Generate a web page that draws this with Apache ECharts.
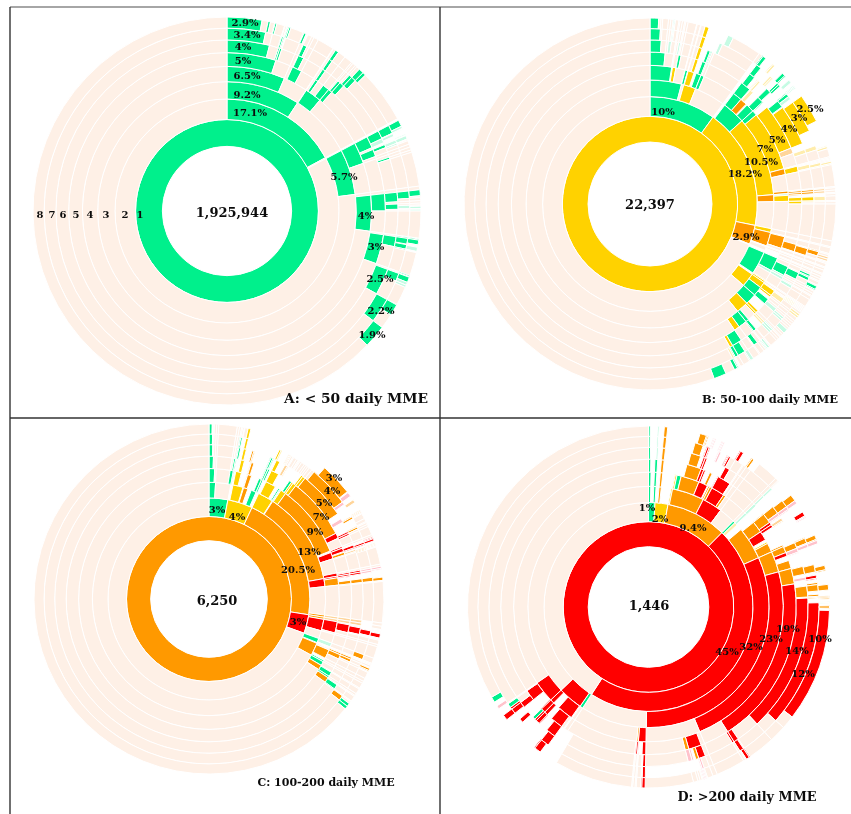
<!DOCTYPE html>
<html><head><meta charset="utf-8">
<style>html,body{margin:0;padding:0;background:#fff}#c{width:851px;height:814px;filter:blur(.35px)}</style>
<script src="https://cdn.jsdelivr.net/npm/echarts@6/dist/echarts.min.js"></script>
</head><body><div id="c"></div>
<script>
// sectors, ring by ring clockwise from 12 o'clock: type, share of all patients (%)
// G green <50, Y yellow 50-100, O orange 100-200, R red >200, P no opioid; lower case = very thin slivers; _ = nothing
const A1=['G',100];
const A2=['G',17.1,'y',.15,'P',82.75];
const A3=['G',9.2,'P',7.9,'_',.15,'G',5.7,'P',77.05];
const A4=['G',6.5,'P',2.7,'_',.05,'G',1.85,'P',6,'_',.15,'G',2.4,'P',3.6,'G',4,'P',72.75];
const A5=['G',5,'P',1.5,'P',.3,'G',1,'P',1.4,'P',.25,'G',.3,'P',.65,'G',1.1,'P',5.6,'_',.15,'G',1.2,'P',.2,'G',.75,'P',3.85,'G',1.75,'P',2.4,'G',3,'P',69.6];
const A6=['G',4,'P',.85,'G',.35,'P',1.65,'G',.55,'P',2.05,'G',.3,'P',1.5,'G',.7,'P',5.15,'_',.15,'G',.8,'g',.4,'_',.2,'G',.3,'P',.95,'G',.2,'P',3.15,'G',.9,'P',.2,'G',.5,'P',2.55,'G',.95,'P',2.2,'G',2.5,'P',66.95];
const A7=['G',3.4,'P',1.4,'G',.3,'P',1.75,'G',.35,'P',2.25,'G',.3,'P',1.92,'G',.7,'P',4.73,'_',.15,'G',.75,'g',.3,'_',.3,'g',.5,'P',4.15,'G',.65,'P',.6,'g',.3,'P',2.5,'G',.6,'_',.05,'G',.5,'P',2.05,'G',.75,'P',1.8,'G',2.2,'P',64.75];
const A8=['G',2.9,'P',.5,'G',.2,'P',.35,'G',.2,'P',.9,'G',.3,'P',1.1,'G',.25,'P',2.75,'G',.3,'P',2.2,'G',.7,'P',4.45,'_',.15,'G',.55,'g',.3,'_',.4,'g',.5,'P',4.25,'G',.5,'P',.85,'g',.4,'P',2.3,'G',.5,'P',.2,'g',.4,'P',2,'G',.6,'g',.45,'P',1.55,'G',1,'P',1.25,'G',1.9,'P',62.85];

const B1=['Y',100];
const B2=['G',10,'Y',18.2,'O',2.9,'r',.1,'P',68.8];
const B3=['G',4.1,'P',.3,'Y',1.6,'P',4,'_',.3,'G',3,'Y',10.5,'O',.9,'P',3.5,'Y',.5,'O',1.8,'r',.1,'P',.5,'_',.3,'G',3,'_',.2,'Y',1.8,'P',63.6];
const B4=['G',2.5,'_',.1,'Y',.4,'P',1.05,'G',.4,'Y',.7,'_',.25,'G',1,'P',3.6,'_',.3,'G',1.1,'O',.8,'_',.15,'G',1.55,'Y',7,'O',.7,'P',1.9,'O',.3,'g',.2,'Y',.7,'P',4.1,'O',1.4,'P',.6,'_',.6,'G',1.6,'g',.3,'P',1,'Y',1,'G',2.4,'Y',1.4,'P',60.6];
const B5=['G',1.6,'P',1.4,'G',.3,'P',1.5,'Y',.35,'_',.45,'G',.5,'P',3.9,'_',.3,'G',1.1,'_',.1,'y',.4,'_',.7,'G',.8,'_',.6,'Y',5,'o',.6,'P',1.4,'Y',.6,'P',2,'O',.5,'_',.2,'Y',.7,'P',4.3,'O',.8,'P',1.7,'G',1,'g',.5,'P',1.4,'Y',.8,'_',.3,'G',.6,'_',1,'Y',.5,'P',.85,'G',1.25,'Y',.6,'P',59.4];
const B6=['G',1.1,'P',.7,'g',.3,'P',.7,'g',.3,'P',1.7,'Y',.35,'_',.55,'G',.5,'P',3.8,'_',.4,'G',.6,'_',.3,'y',.4,'_',.9,'G',.5,'_',1.1,'G',.7,'_',.1,'Y',4,'_',.6,'y',.4,'P',1.1,'y',.4,'P',2.1,'O',.4,'_',.3,'Y',.5,'P',4.6,'O',.7,'P',1.8,'G',.7,'P',.6,'g',.4,'P',1.2,'y',.5,'P',.7,'g',.4,'P',1.3,'y',.4,'_',.7,'G',.4,'P',1.4,'G',1,'Y',.3,'P',58.1];
const B7=['G',.95,'P',1.05,'g',.2,'P',2.6,'Y',.35,'_',1.35,'g',.3,'P',3.2,'_',.4,'G',.5,'_',1.1,'y',.4,'_',.5,'G',.4,'_',.8,'G',.4,'g',.3,'_',.35,'Y',3,'_',1.45,'y',.4,'P',1.2,'y',.4,'P',2,'o',.4,'_',.3,'y',.5,'P',4.5,'O',.5,'P',1.8,'G',.6,'P',2.3,'y',.4,'P',1.3,'g',.4,'P',1,'g',.5,'P',1.4,'G',.4,'P',1,'G',1.1,'y',.2,'P',56.8];
const B8=['G',.75,'P',1.25,'g',.2,'P',2.6,'Y',.35,'_',1.75,'g',.5,'P',2.9,'G',.4,'_',.7,'y',.3,'_',.9,'G',.4,'_',.4,'g',.3,'_',.3,'g',.3,'_',.85,'Y',2.5,'_',2.25,'y',.3,'P',1.1,'y',.3,'P',8,'o',.4,'P',2.3,'G',.4,'P',2.4,'y',.4,'P',1.3,'g',.4,'P',1.7,'g',.4,'P',1.3,'g',.4,'P',1.1,'G',.4,'P',.8,'G',1.1,'P',55.9];

const C1=['O',100];
const C2=['G',3,'Y',4,'O',20.5,'R',3,'P',69.5];
const C3=['G',.9,'P',2.1,'_',.3,'Y',1.4,'_',.1,'O',.6,'_',.5,'G',.7,'_',.4,'Y',2.1,'_',.1,'O',13,'R',1.1,'P',3.9,'O',.6,'R',1.6,'P',1.1,'G',.6,'_',.1,'O',1.8,'P',67];
const C4=['G',.7,'P',1.9,'G',.5,'_',.2,'Y',.7,'_',.7,'O',.6,'_',.95,'G',.55,'_',.4,'Y',1.3,'_',.4,'G',.4,'Y',.7,'O',9,'_',.2,'R',.8,'P',1.8,'R',.6,'O',.9,'P',3.9,'o',.6,'R',1.4,'P',1.3,'g',.5,'P',.4,'O',1.1,'_',.3,'G',.7,'O',.6,'P',65.9];
const C5=['G',.5,'P',2.3,'G',.3,'_',.5,'Y',.4,'_',.7,'O',.4,'_',1.4,'G',.5,'_',.2,'Y',.9,'_',1.4,'G',.3,'Y',.6,'O',7,'R',.6,'P',1,'R',.6,'_',.1,'O',.4,'P',1.9,'R',.5,'_',.4,'O',.5,'P',3.8,'o',.7,'R',.9,'P',2.4,'O',.7,'P',1.7,'G',.7,'O',.6,'P',65.1];
const C6=['G',.4,'P',2.6,'G',.3,'_',.3,'Y',.3,'_',.6,'O',.3,'_',1.7,'G',.4,'_',.3,'Y',.4,'_',.6,'o',.4,'_',1.6,'Y',.5,'O',5,'_',.6,'r',.4,'_',1.1,'R',.4,'P',1.1,'R',.4,'_',.1,'o',.3,'P',1.9,'R',.4,'_',.5,'O',.4,'P',3.9,'o',.8,'R',.7,'P',2.5,'O',.5,'P',2.7,'G',.6,'P',65];
const C7=['G',.35,'P',2.65,'G',.25,'_',.35,'Y',.25,'_',3.15,'Y',.3,'_',.7,'o',.3,'P',2.7,'O',4,'r',.3,'_',1.3,'O',.3,'_',.8,'O',.3,'P',1.4,'R',.3,'_',.2,'O',.3,'P',1.8,'r',.4,'_',.5,'O',.4,'P',3.9,'_',.9,'R',.5,'P',1.9,'O',.5,'P',4,'O',.5,'P',64.5];
const C8=['G',.3,'P',3.3,'Y',.25,'_',7.65,'O',3,'_',.1,'r',.4,'_',.4,'o',.3,'_',.8,'o',.3,'P',2.4,'R',.4,'_',.2,'o',.3,'P',1.9,'r',.3,'_',.7,'O',.3,'P',4.9,'R',.4,'P',2.9,'O',.3,'P',3.4,'G',.6,'P',64.2];

const D1=['R',100];
const D2=['G',1,'Y',2,'O',9.4,'R',46.8,'P',40.8];
const D3=['G',.3,'_',.4,'G',.3,'_',.4,'O',.3,'_',1.3,'Y',.2,'O',4.3,'R',2.7,'P',2.2,'G',.3,'y',.4,'_',.8,'O',4.4,'R',32,'P',8.9,'G',.4,'R',3.3,'P',37.1];
const D4=['G',.3,'_',.4,'G',.3,'_',.4,'O',.3,'_',1.4,'Y',.3,'G',.5,'O',2.2,'R',1.1,'_',.1,'O',.5,'R',1.6,'O',.3,'P',3,'g',.3,'_',1.2,'O',1.4,'R',1.1,'_',.3,'Y',.2,'O',3.6,'R',23,'P',6.5,'R',.9,'O',.2,'P',8.3,'R',1.9,'_',.8,'R',3.1,'P',34.5];
const D5=['G',.25,'_',.45,'G',.3,'_',.4,'O',.3,'_',2.5,'O',1.6,'R',.5,'_',.5,'O',.3,'_',.6,'R',1.6,'P',3.4,'g',.3,'_',1.1,'O',1.2,'R',.6,'_',2.2,'O',.9,'R',.4,'_',.5,'O',2.6,'R',18.5,'P',3.2,'R',1.4,'O',.4,'P',4.3,'R',.4,'_',.4,'R',.4,'P',8.5,'R',1.4,'_',.6,'R',1,'_',1.2,'R',1.2,'P',34.6];
const D6=['G',.2,'_',.6,'g',.2,'_',.4,'O',.3,'_',2.6,'O',1,'_',.3,'R',.4,'_',2,'R',.5,'P',4.2,'g',.2,'_',1.3,'O',.8,'r',.4,'_',.2,'o',.4,'_',2.4,'O',.6,'r',.5,'_',1.4,'O',.8,'_',.3,'r',.3,'_',.6,'O',1.1,'_',.1,'R',14,'P',2.4,'R',.7,'P',3,'R',.7,'O',.3,'_',.2,'r',.6,'P',4.3,'R',.3,'P',7.9,'_',1.5,'R',1,'_',.9,'R',.7,'G',.3,'_',1.3,'R',.6,'P',35];
const D7=['G',.15,'_',.65,'g',.15,'_',.45,'O',.3,'_',2.7,'O',.8,'_',.3,'R',.4,'_',.8,'r',.3,'_',.6,'R',.4,'P',4.7,'g',.2,'_',1.4,'O',.7,'r',.4,'_',2.9,'O',.6,'r',.4,'_',1.7,'O',.7,'_',.3,'R',.4,'_',.3,'O',.8,'_',.3,'O',.4,'_',.4,'R',12,'P',4,'R',.4,'P',3.7,'r',.3,'_',5.3,'R',.3,'P',7.9,'_',1.5,'R',.8,'_',2.4,'R',.4,'_',.7,'R',.7,'G',.4,'P',34.6];
const D8=['G',.15,'_',.65,'g',.15,'_',.45,'O',.3,'_',2.9,'O',.8,'_',.4,'r',.3,'_',.5,'r',.3,'_',1.5,'R',.4,'_',.8,'O',.3,'_',.6,'P',2.3,'_',1.6,'O',.6,'r',.3,'_',.9,'R',.4,'r',.2,'_',1.7,'O',.5,'r',.3,'_',2,'O',.5,'_',1.2,'O',.5,'_',.5,'O',.3,'_',.2,'g',.2,'_',.2,'O',.2,'_',.2,'R',10.1,'P',5.1,'R',.4,'P',3.9,'r',.3,'P',5.2,'R',.4,'P',7.8,'_',1.7,'R',.7,'_',3.4,'R',.5,'_',.7,'r',.3,'_',.4,'G',.5,'P',33.3];

const totals=['1,925,944','22,397','6,250','1,446'];
const titles=['A: < 50 daily MME','B: 50-100 daily MME','C: 100-200 daily MME','D: >200 daily MME'];
const ringLabels=['8','7','6','5','4','3','2','1'];
const percentLabels=[
 ['2.9%','3.4%','4%','5%','6.5%','9.2%','17.1%','5.7%','4%','3%','2.5%','2.2%','1.9%'],
 ['10%','18.2%','10.5%','7%','5%','4%','3%','2.5%','2.9%'],
 ['3%','4%','20.5%','13%','9%','7%','5%','4%','3%','3%'],
 ['1%','2%','9.4%','45%','32%','23%','19%','14%','12%','10%']];

// layout (not data)
const percentXY=[
 [[245,23],[247,35],[243,47],[243,61],[247,76],[247,95],[250,113],[344,177],[366,216],[376,247],[380,279],[381,311],[372,335]],
 [[663,112],[745,174],[761,162],[765,149],[777,140],[789,129],[799,118],[810,109],[746,237]],
 [[217,510],[237,517],[298,570],[309,552],[315,532],[321,517],[324,503],[332,491],[334,478],[298,622]],
 [[647,508],[660,519],[693,528],[727,652],[751,647],[771,639],[788,629],[797,651],[803,674],[820,639]]];
const ringLabelX=[40,52,63,76,90,106,125,140];
const panels=[
 {c:[227,211],R:194,t:[232,214],tt:[356,399],ts:13.8},
 {c:[650,204],R:186,t:[650,206],tt:[770,400],ts:11.5},
 {c:[209,599],R:175,t:[217,602],tt:[326,783],ts:11},
 {c:[648.5,607],R:181,t:[649,607],tt:[747,798],ts:12.8}];
const colours={G:'#00f08c',Y:'#ffd200',O:'#ff9900',R:'#ff0000',P:'#fef0e6',g:'#c6fbe4',y:'#ffedac',o:'#ffd59a',r:'#ffc2cb'};

function tree(rings){
  let prev=null,roots=[];
  rings.forEach(src=>{
    let pos=0,cur=[],ring=src.slice();
    const sum=ring.reduce((a,v)=>typeof v==='number'?a+v:a,0);
    if(sum<100)ring[ring.length-1]+=100-sum; // the last sector closes the circle
    for(let i=0;i<ring.length;i+=2){
      const t=ring[i],s=pos,e=pos+ring[i+1];pos=e;
      const mk=(a,b)=>({name:t,value:b-a,s:a,e:b,cursor:a,children:[],
        itemStyle:t==='_'?{color:'rgba(0,0,0,0)',borderWidth:0}:{color:colours[t]}});
      if(!prev){const n=mk(s,e);roots.push(n);cur.push(n);continue;}
      prev.forEach(p=>{
        const a=Math.max(s,p.s),b=Math.min(e,p.e);
        if(b-a<1e-6)return;
        if(a-p.cursor>1e-6)p.children.push({name:'_',value:a-p.cursor,itemStyle:{color:'rgba(0,0,0,0)',borderWidth:0}});
        const n=mk(a,b);p.children.push(n);p.cursor=b;cur.push(n);
      });
    }
    prev=cur;
  });
  return roots;
}
const charts=[[A1,A2,A3,A4,A5,A6,A7,A8],[B1,B2,B3,B4,B5,B6,B7,B8],[C1,C2,C3,C4,C5,C6,C7,C8],[D1,D2,D3,D4,D5,D6,D7,D8]];
const WIDE='"DejaVu Serif",serif';
const txt=(x,y,s,size)=>({type:'text',silent:true,z:100,x,y,style:{text:s,font:'bold '+size+'px '+WIDE,fill:'#0c0c0c',align:'center',verticalAlign:'middle'}});
const series=charts.map((rings,i)=>{
  const p=panels[i],levels=[{}];
  for(let k=1;k<=8;k++)levels.push({r0:p.R*Math.sqrt(k/9),r:p.R*Math.sqrt((k+1)/9)});
  return {type:'sunburst',center:p.c,radius:[p.R/3,p.R],sort:null,nodeClick:false,silent:true,
    label:{show:false},emphasis:{focus:'none'},levels,
    itemStyle:{borderColor:'#fff',borderWidth:1},data:tree(rings)};
});
const gfx=[];
const line=(x1,y1,x2,y2,col,w)=>gfx.push({type:'line',silent:true,z:100,shape:{x1,y1,x2,y2},style:{stroke:col||'#333',lineWidth:w||1.4}});
line(10,7,851,7,'#888');line(10,7,10,814);line(440,7,440,814);line(10,418,851,418);
panels.forEach((p,i)=>{
  gfx.push(txt(p.t[0],p.t[1],totals[i],13));
  gfx.push(txt(p.tt[0],p.tt[1],titles[i],p.ts));
  percentLabels[i].forEach((s,j)=>gfx.push(txt(percentXY[i][j][0],percentXY[i][j][1],s,10)));
});
ringLabels.forEach((s,j)=>gfx.push(txt(ringLabelX[j],215,s,10)));
const chart=echarts.init(document.getElementById('c'));
chart.setOption({animation:false,series,graphic:{elements:gfx}});
</script></body></html>
